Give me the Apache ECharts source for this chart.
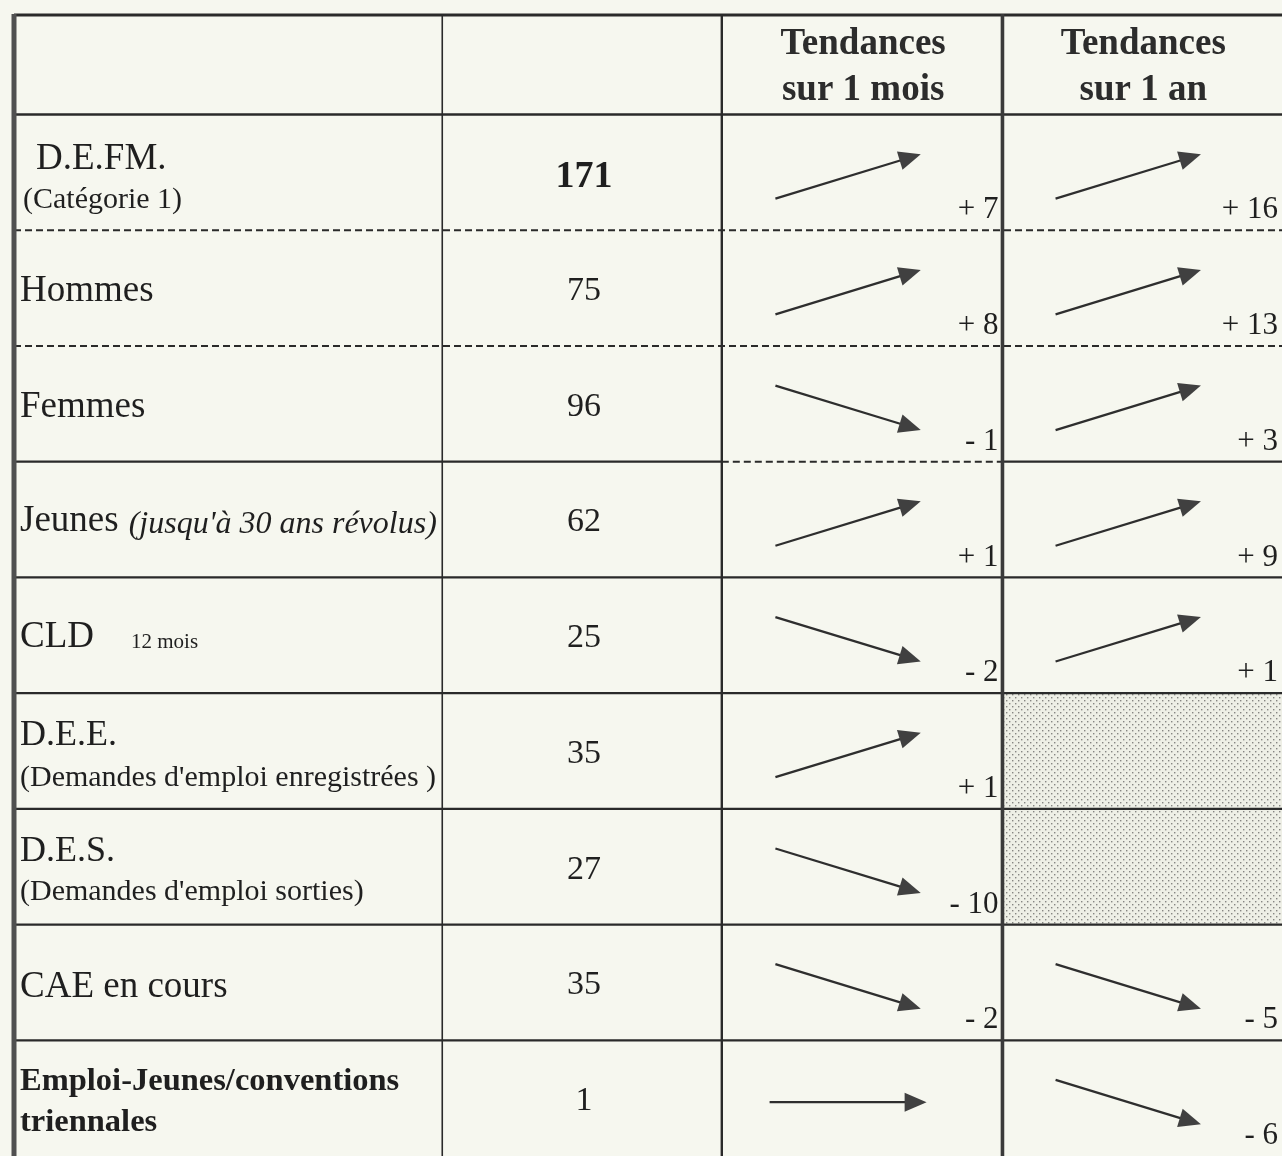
<!DOCTYPE html>
<html><head><meta charset="utf-8">
<script src="https://cdn.jsdelivr.net/npm/echarts@6/dist/echarts.min.js"></script>
<style>html,body{margin:0;padding:0;background:#f6f7ef}#chart{width:1282px;height:1156px}</style>
</head><body><div id="chart"></div>
<script>
// ---- data ----
const columnHeaders = ['', '', 'Tendances\nsur 1 mois', 'Tendances\nsur 1 an'];
const categories = ['D.E.FM.', 'Hommes', 'Femmes', 'Jeunes', 'CLD', 'D.E.E.', 'D.E.S.', 'CAE en cours', 'Emploi-Jeunes/conventions'];
const categoryNotes = ['(Catégorie 1)', '', '', "(jusqu'à 30 ans révolus)", '12 mois', "(Demandes d'emploi enregistrées )", "(Demandes d'emploi sorties)", '', 'triennales'];
const values = [171, 75, 96, 62, 25, 35, 27, 35, 1];
const trendMonth = [7, 8, -1, 1, -2, 1, -10, -2, 0];
const trendYear = [16, 13, 3, 9, 1, null, null, -5, -6];

// ---- layout (not data) ----
const SERIF = '"Liberation Serif","Times New Roman",serif';
const COL = [0, 1.532, 2.532, 3.536, 4.536];
const HEAD = 0.8602;
const NROW = categories.length;
const INK = '#1f1f1f';
const LINE = '#2a2a2a';
const rowStyle = [
  {kind: 'below', indent: 16, mainDy: -13, noteDy: 28, noteIndent: 3, mainSize: 37},
  {kind: 'none', mainDy: 3},
  {kind: 'none', mainDy: 3},
  {kind: 'inline', mainDy: 2, noteFont: 'italic 32px ' + SERIF, noteDy: 5, gap: 10},
  {kind: 'inline', mainDy: 2, noteFont: '21px ' + SERIF, noteDy: 7, gap: 37},
  {kind: 'below', mainDy: -15, noteDy: 27, mainSize: 36},
  {kind: 'below', mainDy: -15, noteDy: 25, mainSize: 36},
  {kind: 'none', mainDy: 5},
  {kind: 'boldbelow', mainDy: -17, noteDy: 24}
];

const mctx = document.createElement('canvas').getContext('2d');
function textW(font, s) { mctx.font = font; return mctx.measureText(s).width; }

const pat = document.createElement('canvas');
pat.width = 6; pat.height = 6;
(function () {
  const c = pat.getContext('2d');
  c.fillStyle = '#eeefe6'; c.fillRect(0, 0, 6, 6);
  c.fillStyle = '#868682';
  c.fillRect(1, 1, 1.4, 1.4);
  c.fillRect(4, 4, 1.4, 1.4);
})();

function fmtTrend(v) {
  if (v === 0) return '';
  return (v > 0 ? '+ ' : '- ') + Math.abs(v);
}

function arrow(mx, my, sign) {
  const ang = sign > 0 ? -17 : (sign < 0 ? 17 : 0);
  const r = ang * Math.PI / 180;
  const L = sign === 0 ? 157 : 152;
  const ux = Math.cos(r), uy = Math.sin(r);
  const sx = mx - ux * L / 2, sy = my - uy * L / 2;
  const tx = mx + ux * L / 2, ty = my + uy * L / 2;
  const hl = 22, hw = 9.5;
  const bx = tx - ux * hl, by = ty - uy * hl;
  return [
    {type: 'line', shape: {x1: sx, y1: sy, x2: bx + ux * 3, y2: by + uy * 3}, style: {stroke: '#2e2e2e', lineWidth: 2.3}},
    {type: 'polygon', shape: {points: [[tx, ty], [bx - uy * hw, by + ux * hw], [bx + uy * hw, by - ux * hw]]}, style: {fill: '#404040'}}
  ];
}

function renderRow(params, api) {
  const i = api.value(0);
  const yTop = HEAD + i, yBot = yTop + 1;
  const top = api.coord([0, yTop])[1], bot = api.coord([0, yBot])[1];
  const cy = (top + bot) / 2;
  const xs = COL.map(c => api.coord([c, yTop])[0]);
  const st = rowStyle[i];
  const ch = [];
  const x0 = xs[0] + 6;

  if (st.kind === 'none') {
    ch.push({type: 'text', style: {text: categories[i], x: x0, y: cy + st.mainDy, font: '37px ' + SERIF, fill: INK, align: 'left', verticalAlign: 'middle'}});
  } else if (st.kind === 'below') {
    ch.push({type: 'text', style: {text: categories[i], x: x0 + (st.indent || 0), y: cy + st.mainDy, font: st.mainSize + 'px ' + SERIF, fill: INK, align: 'left', verticalAlign: 'middle'}});
    ch.push({type: 'text', style: {text: categoryNotes[i], x: x0 + (st.noteIndent || 0), y: cy + st.noteDy, font: '30px ' + SERIF, fill: INK, align: 'left', verticalAlign: 'middle'}});
  } else if (st.kind === 'inline') {
    const f = '37px ' + SERIF;
    const w = textW(f, categories[i]);
    ch.push({type: 'text', style: {text: categories[i], x: x0, y: cy + st.mainDy, font: f, fill: INK, align: 'left', verticalAlign: 'middle'}});
    ch.push({type: 'text', style: {text: categoryNotes[i], x: x0 + w + (st.gap || 11), y: cy + st.noteDy, font: st.noteFont, fill: INK, align: 'left', verticalAlign: 'middle'}});
  } else if (st.kind === 'boldbelow') {
    ch.push({type: 'text', style: {text: categories[i], x: x0, y: cy + st.mainDy, font: 'bold 32.5px ' + SERIF, fill: INK, align: 'left', verticalAlign: 'middle'}});
    ch.push({type: 'text', style: {text: categoryNotes[i], x: x0, y: cy + st.noteDy, font: 'bold 32.5px ' + SERIF, fill: INK, align: 'left', verticalAlign: 'middle'}});
  }

  ch.push({type: 'text', style: {text: String(values[i]), x: (xs[1] + xs[2]) / 2 + 2, y: cy + (i === 0 ? 5 : 3),
    font: (i === 0 ? 'bold 38px ' : '34px ') + SERIF, fill: INK, align: 'center', verticalAlign: 'middle'}});

  [[trendMonth[i], 2], [trendYear[i], 3]].forEach(([v, c]) => {
    const l = xs[c], r = xs[c + 1];
    if (v === null || v === undefined) {
      ch.push({type: 'rect', shape: {x: l, y: top, width: r - l, height: bot - top},
        style: {fill: {image: pat, repeat: 'repeat'}}, z2: -1});
      return;
    }
    arrow(l + (r - l) * 0.45, cy + 4, Math.sign(v)).forEach(e => ch.push(e));
    const t = fmtTrend(v);
    if (t) ch.push({type: 'text', style: {text: t, x: r - 4, y: bot - 20, font: '31px ' + SERIF, fill: INK, align: 'right', verticalAlign: 'middle'}});
  });
  return {type: 'group', children: ch};
}

function renderFrame(params, api) {
  const ch = [];
  const X = c => api.coord([c, 0])[0];
  const Y = r => api.coord([0, r])[1];
  const top = Y(0), bottom = Y(HEAD + NROW);
  const xs = COL.map(X);
  columnHeaders.forEach((h, c) => {
    if (!h) return;
    const lines = h.split('\n');
    const cx = (xs[c] + xs[c + 1]) / 2 + 1;
    const cyh = (Y(0) + Y(HEAD)) / 2;
    ch.push({type: 'text', style: {text: lines[0], x: cx, y: cyh - 20, font: 'bold 37px ' + SERIF, fill: '#2c2c2c', align: 'center', verticalAlign: 'middle'}});
    ch.push({type: 'text', style: {text: lines[1], x: cx, y: cyh + 26, font: 'bold 37px ' + SERIF, fill: '#2c2c2c', align: 'center', verticalAlign: 'middle'}});
  });
  const hline = (r, c0, c1, dashed, w) => ch.push({type: 'line',
    shape: {x1: xs[c0], y1: Y(r), x2: xs[c1], y2: Y(r)},
    style: {stroke: LINE, lineWidth: w, lineDash: dashed ? [7, 4] : null}});
  hline(0, 0, 4, false, 3);
  hline(HEAD, 0, 4, false, 2.5);
  for (let i = 1; i < NROW; i++) {
    const r = HEAD + i;
    if (i === 1 || i === 2) { hline(r, 0, 4, true, 2); }
    else if (i === 3) { hline(r, 0, 2, false, 2.2); hline(r, 2, 3, true, 2); hline(r, 3, 4, false, 2.2); }
    else hline(r, 0, 4, false, 2.2);
  }
  const vline = (c, w, col) => ch.push({type: 'line', shape: {x1: xs[c], y1: top - 1, x2: xs[c], y2: bottom}, style: {stroke: col || LINE, lineWidth: w}});
  vline(0, 5, '#505050');
  vline(1, 1.6);
  vline(2, 2.4);
  vline(3, 3.6, '#3a3a3a');
  return {type: 'group', children: ch};
}

const chart = echarts.init(document.getElementById('chart'), null, {renderer: 'canvas'});
chart.setOption({
  backgroundColor: '#f6f7ef',
  animation: false,
  grid: {left: 14, top: 15, width: 1268, height: 1146.25},
  xAxis: {type: 'value', min: 0, max: COL[4], show: false},
  yAxis: {type: 'value', min: 0, max: HEAD + NROW, inverse: true, show: false},
  series: [
    {type: 'custom', renderItem: renderRow, data: values.map((v, i) => [i, i]), z: 2, silent: true},
    {type: 'custom', renderItem: renderFrame, data: [[0, 0]], z: 3, silent: true}
  ]
});
</script></body></html>
